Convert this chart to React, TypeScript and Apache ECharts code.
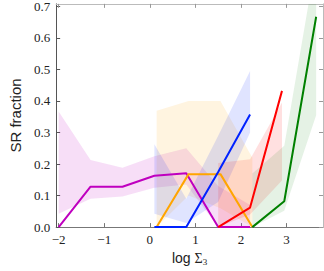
import React, { useEffect, useRef } from "react";
import * as echarts from "echarts";

const xTicks = [-2, -1, 0, 1, 2, 3];
const yTicks = [0, 0.1, 0.2, 0.3, 0.4, 0.5, 0.6, 0.7];

const xPurple = [-2.0, -1.3, -0.6, 0.1, 0.8, 1.5, 2.2];
const yPurple = [0, 0.128, 0.128, 0.163, 0.171, 0, 0];
const loPurple = [0.042, 0.09, 0.097, 0.125, 0.135, 0, 0];
const hiPurple = [0.367, 0.213, 0.188, 0.225, 0.25, 0.13, 0.07];

const xOrange = [0.15, 0.85, 1.55, 2.25];
const yOrange = [0, 0.168, 0.168, 0];
const loOrange = [0, 0.1, 0.06, 0];
const hiOrange = [0.369, 0.4, 0.4, 0.22];

const xBlue = [0.1, 0.8, 1.5, 2.2];
const yBlue = [0, 0, 0.175, 0.357];
const loBlue = [0.042, 0.013, 0.08, 0.3];
const hiBlue = [0.263, 0.09, 0.29, 0.495];

const xRed = [1.5, 2.2, 2.9];
const yRed = [0, 0.062, 0.432];
const loRed = [0, 0.04, 0.148];
const hiRed = [0.203, 0.215, 0.395];

const xGreen = [2.25, 2.95, 3.65];
const yGreen = [0, 0.082, 0.667];
const loGreen = [0, 0.052, 0.355];
const hiGreen = [0.17, 0.258, 0.85];

const groups = [
  { name: "purple", color: "#bf00bf", alpha: 0.13, x: xPurple, y: yPurple, lo: loPurple, hi: hiPurple },
  { name: "orange", color: "#ffa500", alpha: 0.12, x: xOrange, y: yOrange, lo: loOrange, hi: hiOrange },
  { name: "blue", color: "#0022ff", alpha: 0.12, x: xBlue, y: yBlue, lo: loBlue, hi: hiBlue },
  { name: "red", color: "#ff0000", alpha: 0.12, x: xRed, y: yRed, lo: loRed, hi: hiRed },
  { name: "green", color: "#008000", alpha: 0.1, x: xGreen, y: yGreen, lo: loGreen, hi: hiGreen },
];

const fmtNum = (v: number, d: number) => v.toFixed(d).replace("-", "\u2212");

export default function App() {
  const ref = useRef<HTMLDivElement>(null);
  useEffect(() => {
    document.body.style.margin = "0";
    const chart = echarts.init(ref.current!, undefined, { renderer: "svg" });
    const serif = "Liberation Serif";
    const series: any[] = [];
    series.push({
      type: "custom",
      clip: true,
      silent: true,
      z: 1,
      data: groups.map((g, i) => [i]),
      renderItem: (params: any, api: any) => {
        const g = groups[params.dataIndex];
        const pts: number[][] = [];
        g.x.forEach((x, i) => pts.push(api.coord([x, g.hi[i]])));
        for (let i = g.x.length - 1; i >= 0; i--) pts.push(api.coord([g.x[i], g.lo[i]]));
        const cs = params.coordSys;
        return {
          type: "polygon",
          shape: { points: pts },
          style: { fill: g.color, opacity: g.alpha },
          clipPath: {
            type: "rect",
            shape: { x: cs.x, y: cs.y, width: cs.width, height: cs.height },
          },
        };
      },
    });
    groups.forEach((g) => {
      series.push({
        type: "line",
        data: g.x.map((x, i) => [x, g.y[i]]),
        symbol: "none",
        lineStyle: { color: g.color, width: 2 },
        z: 3,
      });
    });
    chart.setOption({
      animation: false,
      grid: { left: 36, right: 1, top: 3, bottom: 33.7, containLabel: false },
      xAxis: [
        {
          type: "value",
          min: -2.055,
          max: 3.8,
          position: "bottom",
          axisLine: { show: true, onZero: false, lineStyle: { color: "#777", width: 1 } },
          axisTick: { show: true, inside: true, length: 4, customValues: xTicks, lineStyle: { color: "#777" } },
          axisLabel: {
            customValues: xTicks,
            formatter: (v: number) => fmtNum(v, 0),
            fontFamily: serif,
            fontSize: 13,
            color: "#222",
            margin: 6,
          },
          splitLine: { show: false },
          name: "{a|log }{b|\u03a3}{c|3}",
          nameLocation: "middle",
          nameGap: 13,
          nameTextStyle: {
            rich: {
              a: { fontFamily: "Liberation Sans", fontSize: 14, color: "#222" },
              b: { fontFamily: serif, fontSize: 14, color: "#222" },
              c: { fontFamily: serif, fontSize: 9, color: "#222", padding: [7, 0, 0, 0] },
            },
          },
        },
        {
          type: "value",
          min: -2.055,
          max: 3.8,
          position: "top",
          axisLine: { show: true, onZero: false, lineStyle: { color: "#bbb", width: 1 } },
          axisTick: { show: true, inside: true, length: 4, customValues: xTicks, lineStyle: { color: "#999" } },
          axisLabel: { show: false },
          splitLine: { show: false },
        },
      ],
      yAxis: [
        {
          type: "value",
          min: 0,
          max: 0.708,
          position: "left",
          axisLine: { show: true, onZero: false, lineStyle: { color: "#555", width: 1 } },
          axisTick: { show: true, inside: true, length: 4, customValues: yTicks, lineStyle: { color: "#555" } },
          axisLabel: {
            customValues: yTicks,
            formatter: (v: number) => fmtNum(v, 1),
            fontFamily: serif,
            fontSize: 13,
            color: "#222",
            margin: 6,
          },
          splitLine: { show: false },
          name: "SR fraction",
          nameLocation: "middle",
          nameGap: 29,
          nameTextStyle: { fontFamily: "Liberation Sans", fontSize: 15, color: "#222" },
        },
        {
          type: "value",
          min: 0,
          max: 0.708,
          position: "right",
          axisLine: { show: true, onZero: false, lineStyle: { color: "#bbb", width: 1 } },
          axisTick: { show: true, inside: true, length: 4, customValues: yTicks, lineStyle: { color: "#999" } },
          axisLabel: { show: false },
          splitLine: { show: false },
        },
      ],
      series,
    });
    return () => chart.dispose();
  }, []);
  return <div ref={ref} style={{ width: 324, height: 271 }} />;
}
